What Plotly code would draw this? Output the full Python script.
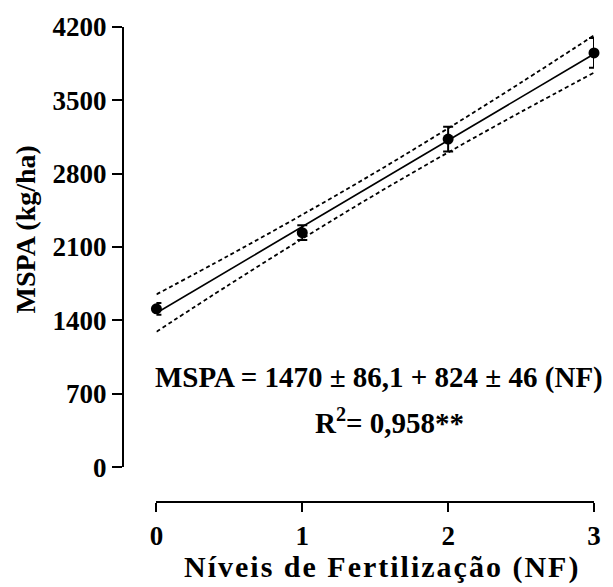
import plotly.graph_objects as go

# Data
nf_levels = [0, 1, 2, 3]
mspa_mean = [1510, 2237, 3130, 3953]
mspa_err = [57, 71, 119, 143]

fit_x = [0, 3]
fit_y = [1470, 3942]

band_x = [0, 0.5, 1, 1.5, 2, 2.5, 3]
band_upper = [1648, 2022, 2409, 2811, 3233, 3670, 4120]
band_lower = [1292, 1742, 2179, 2601, 3003, 3390, 3764]

y_ticks = [0, 700, 1400, 2100, 2800, 3500, 4200]
x_ticks = [0, 1, 2, 3]

FONT = "Liberation Serif"
W, H = 613, 587
ML, MR, MT, MB = 123, 15, 26, 85
pw = W - ML - MR
ph = H - MT - MB

def px_x(p):
    return (p - ML) / pw

def px_y(p):
    return (H - MB - p) / ph

fig = go.Figure()

for yb in (band_upper, band_lower):
    fig.add_trace(go.Scatter(x=band_x, y=yb, mode="lines",
                             line=dict(color="black", width=1.8, dash="4px,3px", shape="spline"),
                             hoverinfo="skip", showlegend=False))

fig.add_trace(go.Scatter(x=fit_x, y=fit_y, mode="lines",
                         line=dict(color="black", width=1.6), showlegend=False))

fig.add_trace(go.Scatter(x=nf_levels, y=mspa_mean, mode="markers",
                         marker=dict(color="black", size=11),
                         error_y=dict(type="data", array=mspa_err, color="black",
                                      thickness=2, width=5),
                         cliponaxis=False, showlegend=False))

def ann(text, cx, cy, size, angle=0):
    return dict(text=text, xref="paper", yref="paper", x=px_x(cx), y=px_y(cy),
                xanchor="center", yanchor="middle", showarrow=False, textangle=angle,
                font=dict(family=FONT, size=size, weight="bold", color="black"))

fig.update_layout(
    width=W, height=H,
    margin=dict(l=ML, r=MR, t=MT, b=MB),
    paper_bgcolor="white", plot_bgcolor="white",
    font=dict(family=FONT, color="black", size=27, weight="bold"),
    xaxis=dict(domain=[px_x(156.7), 1], range=[0, 3], anchor="free", position=0,
               tickvals=x_ticks, ticktext=[str(v) for v in x_ticks],
               showline=True, linecolor="black", linewidth=2,
               ticks="outside", ticklen=9, tickwidth=2, tickcolor="black",
               ticklabelstandoff=1,
               showgrid=False, zeroline=False,
               tickfont=dict(family=FONT, size=27, weight="bold")),
    yaxis=dict(domain=[px_y(467), 1], range=[0, 4200], anchor="free", position=0,
               tickvals=y_ticks, ticktext=[str(v) for v in y_ticks],
               showline=True, linecolor="black", linewidth=2,
               ticks="outside", ticklen=10, tickwidth=2, tickcolor="black",
               showgrid=False, zeroline=False,
               tickfont=dict(family=FONT, size=27, weight="bold")),
    annotations=[
        ann("MSPA = 1470 ± 86,1 + 824 ± 46 (NF)", 381, 377, 29),
        ann("R<sup>2</sup>= 0,958**", 392, 421, 29),
        ann("<span style='letter-spacing:2px'>Níveis de Fertilização (NF)</span>", 384, 567, 30),
        ann("MSPA (kg/ha)", 25, 229, 28, -90),
    ],
)

fig.write_html("out.html")
